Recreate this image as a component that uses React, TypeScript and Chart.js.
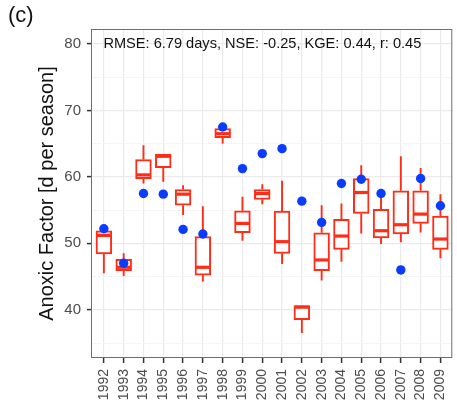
import React, { useEffect, useRef } from 'react';
import { Chart, registerables } from 'chart.js';

Chart.register(...registerables);

// ---- data ----
const years = ['1992', '1993', '1994', '1995', '1996', '1997', '1998', '1999', '2000',
  '2001', '2002', '2003', '2004', '2005', '2006', '2007', '2008', '2009'];
const whiskerLow = [45.5, 45.1, 59.0, 59.25, 54.25, 44.25, 65.0, 50.4, 55.9, 46.9, 36.5, 44.4, 47.25, 51.5, 49.9, 50.15, 51.65, 47.75];
const boxLow = [48.4, 45.9, 59.75, 61.4, 55.75, 45.2, 65.9, 51.6, 56.6, 48.5, 38.5, 45.9, 49.1, 54.5, 50.8, 51.4, 53.0, 49.1];
const medians = [51.2, 46.4, 60.3, 63.1, 57.4, 46.4, 66.5, 53.0, 57.5, 50.25, 40.4, 47.5, 51.1, 57.65, 51.9, 52.8, 54.4, 50.65];
const boxHigh = [51.9, 47.6, 62.6, 63.4, 58.1, 51.0, 67.25, 54.9, 58.1, 54.85, 40.65, 51.6, 53.6, 59.75, 55.1, 57.9, 57.9, 54.1];
const whiskerHigh = [51.9, 48.5, 64.75, 63.4, 58.75, 55.6, 67.25, 57.0, 58.9, 59.4, 40.65, 55.75, 56.0, 61.75, 58.1, 63.1, 61.35, 57.4];
const observed = [52.2, 47.0, 57.5, 57.4, 52.1, 51.4, 67.5, 61.25, 63.5, 64.25, 56.35, 53.15, 59.0, 59.65, 57.5, 46.0, 59.75, 55.65];
const yTicks = [35, 40, 45, 50, 55, 60, 65, 70, 75, 80];
const yMin = 32.75;
const yMax = 82.25;
const statsText = 'RMSE: 6.79 days, NSE: -0.25, KGE: 0.44, r: 0.45';
const statsY = 80;
const panelLabel = '(c)';
const yTitle = 'Anoxic Factor [d per season]';

const RED = '#ff2d17';
const BLUE = '#0a3cff';
const FONT = "'Liberation Sans', Arial, Helvetica, sans-serif";

export default function App() {
  const ref = useRef<HTMLCanvasElement>(null);

  useEffect(() => {
    if (!ref.current) return;
    Chart.defaults.font.family = FONT;

    const boxExtras = {
      id: 'boxExtras',
      afterDatasetDraw(chart: any, args: any) {
        if (args.index !== 0) return;
        const xs = chart.scales.x;
        const ys = chart.scales.y;
        const ctx = chart.ctx;
        const meta = chart.getDatasetMeta(0);
        ctx.save();
        ctx.strokeStyle = RED;
        ctx.lineCap = 'butt';
        years.forEach((_, i) => {
          const px = xs.getPixelForValue(i);
          const bar = meta.data[i];
          const half = bar.width / 2;
          ctx.lineWidth = 1.9;
          ctx.beginPath();
          if (whiskerHigh[i] > boxHigh[i]) {
            ctx.moveTo(px, ys.getPixelForValue(boxHigh[i]));
            ctx.lineTo(px, ys.getPixelForValue(whiskerHigh[i]));
          }
          if (whiskerLow[i] < boxLow[i]) {
            ctx.moveTo(px, ys.getPixelForValue(boxLow[i]));
            ctx.lineTo(px, ys.getPixelForValue(whiskerLow[i]));
          }
          ctx.stroke();
          ctx.lineWidth = 3.2;
          ctx.beginPath();
          const my = ys.getPixelForValue(medians[i]);
          ctx.moveTo(px - half + 1, my);
          ctx.lineTo(px + half - 1, my);
          ctx.stroke();
        });
        ctx.restore();
      },
      afterDraw(chart: any) {
        const { ctx, chartArea } = chart;
        const xs = chart.scales.x;
        const ys = chart.scales.y;
        ctx.save();
        ctx.strokeStyle = '#6e6e6e';
        ctx.lineWidth = 1;
        ctx.strokeRect(chartArea.left - 0.5, chartArea.top + 0.5,
          chartArea.right - chartArea.left, chartArea.bottom - chartArea.top - 1);
        ctx.fillStyle = '#111';
        ctx.textBaseline = 'middle';
        ctx.textAlign = 'left';
        ctx.font = `14.6px ${FONT}`;
        ctx.fillText(statsText, xs.getPixelForValue(0) - 0.5, ys.getPixelForValue(statsY));
        ctx.font = `22px ${FONT}`;
        ctx.fillText(panelLabel, 8, 16);
        ctx.restore();
      },
    };

    const chart = new Chart(ref.current, {
      type: 'bar',
      data: {
        datasets: [
          {
            type: 'bar',
            data: years.map((_, i) => ({ x: i, y: [boxLow[i], boxHigh[i]] })) as any,
            backgroundColor: '#ffffff',
            borderColor: RED,
            borderWidth: 2,
            borderSkipped: false,
            barThickness: 15.8,
            grouped: false,
            order: 2,
          } as any,
          {
            type: 'line',
            data: years.map((_, i) => ({ x: i, y: observed[i] })) as any,
            showLine: false,
            pointRadius: 4.7,
            pointBorderWidth: 0,
            pointBackgroundColor: BLUE,
            pointBorderColor: BLUE,
            order: 1,
          } as any,
        ],
      },
      options: {
        animation: false,
        responsive: false,
        devicePixelRatio: 1,
        layout: { padding: { top: 29, left: 0, right: 0, bottom: 0 } },
        plugins: {
          legend: { display: false },
          tooltip: { enabled: false },
        },
        scales: {
          x: {
            type: 'linear',
            min: -0.6,
            max: 17.6,
            offset: false,
            border: { display: false },
            grid: {
              offset: false,
              color: '#ebebeb',
              lineWidth: 1.2,
              tickColor: '#333333',
              tickLength: 5,
              tickWidth: 1.5,
            },
            ticks: {
              autoSkip: false,
              maxRotation: 90,
              minRotation: 90,
              padding: 6,
              color: '#4d4d4d',
              font: { size: 14, family: FONT },
              callback: (v: any) => years[Math.round(Number(v))] ?? '',
            },
            afterBuildTicks: (s: any) => {
              s.ticks = years.map((_, i) => ({ value: i }));
            },
            afterFit: (s: any) => {
              s.height = 49;
              s.paddingLeft = 0;
              s.paddingRight = 0;
            },
          } as any,
          y: {
            type: 'linear',
            min: yMin,
            max: yMax,
            beginAtZero: false,
            border: { display: false },
            grid: {
              color: (c: any) => (c.tick && c.tick.value % 10 === 0 ? '#ebebeb' : '#f3f3f3'),
              lineWidth: (c: any) => (c.tick && c.tick.value % 10 === 0 ? 1.2 : 0.8),
              tickColor: (c: any) => (c.tick && c.tick.value % 10 === 0 ? '#333333' : 'rgba(0,0,0,0)'),
              tickLength: 5,
              tickWidth: 1.5,
            },
            ticks: {
              padding: 6,
              color: '#4d4d4d',
              font: { size: 15, family: FONT },
              callback: (v: any) => (Number(v) % 10 === 0 ? String(v) : ''),
            },
            afterBuildTicks: (s: any) => {
              s.ticks = yTicks.map((v) => ({ value: v }));
            },
            title: {
              display: true,
              text: yTitle,
              color: '#111',
              font: { size: 20, family: FONT },
              padding: { top: 35, bottom: 0 },
            },
            afterFit: (s: any) => {
              s.width = 92;
              s.paddingTop = 0;
              s.paddingBottom = 0;
            },
          } as any,
        },
      },
      plugins: [boxExtras],
    });

    return () => chart.destroy();
  }, []);

  return (
    <div style={{ position: 'fixed', left: 0, top: 0, width: 457, height: 407, background: '#fff' }}>
      <canvas ref={ref} width={457} height={407} style={{ width: 457, height: 407, display: 'block' }} />
    </div>
  );
}
